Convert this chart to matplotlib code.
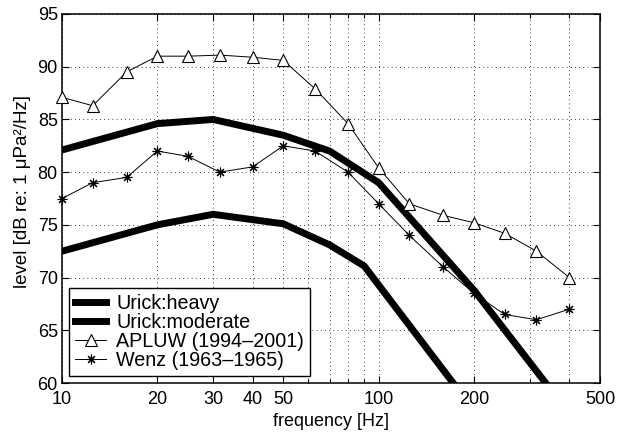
import matplotlib
matplotlib.use("Agg")
import matplotlib.pyplot as plt
from matplotlib.ticker import FixedLocator, NullFormatter

plt.rcParams['font.family'] = ['Liberation Sans', 'DejaVu Sans']

# Data
f_third = [10, 12.5, 16, 20, 25, 31.5, 40, 50, 63, 80, 100, 125, 160, 200, 250, 315, 400]
apluw = [87.1, 86.3, 89.5, 91.0, 91.0, 91.1, 90.9, 90.6, 87.9, 84.6, 80.4, 77.0, 75.9, 75.2, 74.2, 72.5, 70.0]
wenz = [77.5, 79.0, 79.5, 82.0, 81.5, 80.0, 80.5, 82.5, 82.0, 80.0, 77.0, 74.0, 71.0, 68.5, 66.5, 66.0, 67.0]

f_heavy = [10, 20, 30, 50, 70, 100, 200, 400]
urick_heavy = [82.1, 84.6, 85.0, 83.5, 82.0, 79.0, 68.8, 57.1]

f_moderate = [10, 20, 30, 50, 70, 90, 200]
urick_moderate = [72.5, 75.0, 76.0, 75.1, 73.1, 71.1, 57.4]

xtick_labels = {10: '10', 20: '20', 30: '30', 40: '40', 50: '50', 100: '100', 200: '200', 500: '500'}
minor_ticks = [60, 70, 80, 90, 300, 400]
yticks = [60, 65, 70, 75, 80, 85, 90, 95]

fig = plt.figure(figsize=(6.18, 4.32), dpi=100)
ax = fig.add_axes([0.1003, 0.1134, 0.8706, 0.8542])

ax.plot(f_heavy, urick_heavy, color='black', lw=5.0, solid_joinstyle='miter', label='Urick:heavy', zorder=3)
ax.plot(f_moderate, urick_moderate, color='black', lw=5.0, solid_joinstyle='miter', label='Urick:moderate', zorder=3)
ax.plot(f_third, apluw, color='black', lw=0.7, marker='^', ms=8, mfc='white', mec='black', mew=0.8,
        label='APLUW (1994\u20132001)', zorder=4, clip_on=False)
ax.plot(f_third, wenz, color='black', lw=0.7, marker=(8, 2, 0), ms=7, mec='black', mew=0.8,
        label='Wenz (1963\u20131965)', zorder=4, clip_on=False)

ax.set_xscale('log')
ax.set_xlim(10, 500)
ax.set_ylim(60, 95)

major = sorted(xtick_labels.keys())
ax.xaxis.set_major_locator(FixedLocator(major))
ax.set_xticklabels([xtick_labels[k] for k in major])
ax.xaxis.set_minor_locator(FixedLocator(minor_ticks))
ax.xaxis.set_minor_formatter(NullFormatter())
ax.set_yticks(yticks)

ax.tick_params(which='both', direction='in', top=True, right=True, labelsize=13, width=0.8)
ax.tick_params(which='major', length=5)
ax.tick_params(which='minor', length=3)
ax.tick_params(axis='x', which='major', pad=6)
ax.tick_params(axis='y', which='major', pad=3)

ax.grid(True, which='both', axis='x', color='black', linestyle=(0, (1, 4)), lw=0.6)
ax.grid(True, which='major', axis='y', color='black', linestyle=(0, (1, 4)), lw=0.6)
ax.set_axisbelow(True)

for s in ax.spines.values():
    s.set_linewidth(1.1)

ax.set_xlabel('frequency [Hz]', fontsize=13, labelpad=3)
ax.set_ylabel('level [dB re: 1 \u03bcPa\u00b2/Hz]', fontsize=13.5, labelpad=2)
ax.yaxis.set_label_coords(-0.058, 0.52)

leg = ax.legend(loc='lower left', bbox_to_anchor=(0.013, 0.019), borderaxespad=0,
                fontsize=14.2, frameon=True, fancybox=False, edgecolor='black',
                handlelength=1.6, handletextpad=0.5, labelspacing=0.0, borderpad=0.3)
leg.get_frame().set_linewidth(1.0)
leg.get_frame().set_alpha(1)

fig.savefig('out.png', dpi=100)
